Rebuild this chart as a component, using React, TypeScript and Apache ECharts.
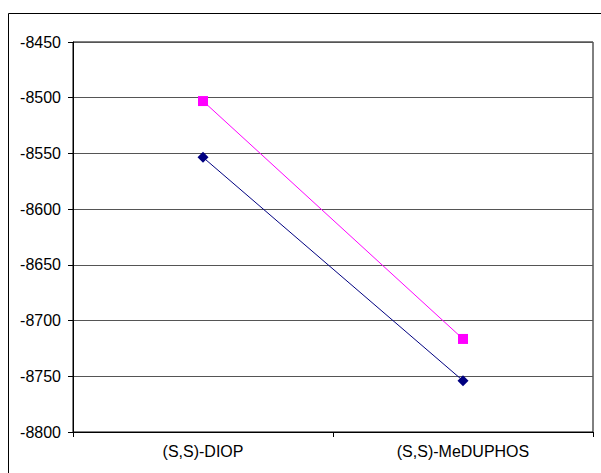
import React, { useEffect, useRef } from "react";
import * as echarts from "echarts";

const categories = ["(S,S)-DIOP", "(S,S)-MeDUPHOS"];
const seriesNavy = [-8553.5, -8754];
const seriesPink = [-8503, -8716.5];
const yMin = -8800;
const yMax = -8450;
const yInterval = 50;

export default function App() {
  const ref = useRef<HTMLDivElement>(null);
  useEffect(() => {
    document.body.style.margin = "0";
    const chart = echarts.init(ref.current!, null, { renderer: "svg" });
    const font = "Liberation Sans, Arial, sans-serif";
    chart.setOption({
      animation: false,
      backgroundColor: "#ffffff",
      textStyle: { fontFamily: font },
      grid: {
        left: 73,
        top: 42,
        right: 8,
        bottom: 41,
        show: true,
        borderColor: "#000000",
        borderWidth: 1,
      },
      graphic: [
        {
          type: "rect",
          shape: { x: 8.5, y: 13.5, width: 620, height: 500 },
          style: { fill: "none", stroke: "#000000", lineWidth: 1 },
          silent: true,
          z: -1,
        },
      ],
      xAxis: {
        type: "category",
        data: categories,
        boundaryGap: true,
        axisLine: { show: true, lineStyle: { color: "#000000", width: 1 } },
        axisTick: { show: true, length: 5, lineStyle: { color: "#000000" } },
        axisLabel: {
          color: "#000000",
          fontSize: 16,
          margin: 11,
          fontFamily: font,
        },
        splitLine: { show: false },
      },
      yAxis: {
        type: "value",
        min: yMin,
        max: yMax,
        interval: yInterval,
        axisLine: { show: true, lineStyle: { color: "#000000", width: 1 } },
        axisTick: { show: true, length: 5, lineStyle: { color: "#000000" } },
        axisLabel: {
          color: "#000000",
          fontSize: 16,
          margin: 12,
          fontFamily: font,
          formatter: (v: number) => String(v),
        },
        splitLine: { show: true, lineStyle: { color: "#555555", width: 1 } },
      },
      series: [
        {
          name: "Series1",
          type: "line",
          data: seriesNavy,
          symbol: "diamond",
          symbolSize: 11,
          itemStyle: { color: "#000080" },
          lineStyle: { color: "#000080", width: 1 },
        },
        {
          name: "Series2",
          type: "line",
          data: seriesPink,
          symbol: "rect",
          symbolSize: 10,
          itemStyle: { color: "#FF00FF" },
          lineStyle: { color: "#FF00FF", width: 1 },
        },
      ],
    });
    return () => chart.dispose();
  }, []);
  return (
    <div
      ref={ref}
      style={{ position: "absolute", left: 0, top: 0, width: 601, height: 473 }}
    />
  );
}
